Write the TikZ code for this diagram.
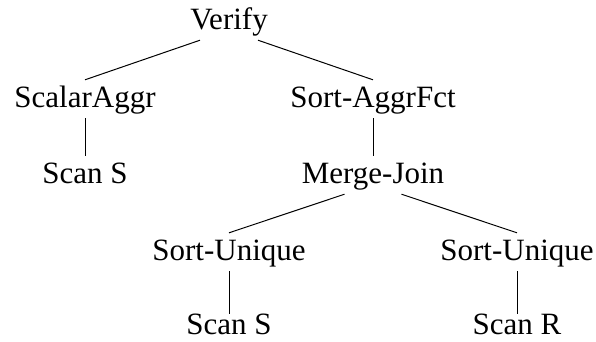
\documentclass[tikz,border=0pt]{standalone}
\usepackage{fontspec}
\setmainfont{Liberation Serif}
\begin{document}
\begin{tikzpicture}[x=1pt,y=-1pt,
  op/.style={anchor=base,inner xsep=0pt,inner ysep=7pt,text height=20pt,text depth=4pt,
    font=\fontsize{31}{36}\selectfont},
  leaf/.style={op,inner ysep=0pt,text height=24pt,text depth=0pt},
  edge/.style={line width=1pt}]
\useasboundingbox (0,0) rectangle (596,341);
\node[op] (v)  at (229,29)  {Verify};
\node[op] (sa) at (85,107)  {ScalarAggr};
\node[op] (sf) at (373,107) {Sort-AggrFct};
\node[op] (s1) at (85,183)  {Scan S};
\node[op] (mj) at (373,183) {Merge-Join};
\node[op] (u1) at (229,260) {Sort-Unique};
\node[op] (u2) at (517,260) {Sort-Unique};
\node[leaf] (s2) at (229,334) {Scan S};
\node[leaf] (sr) at (517,334) {Scan R};
\draw[edge] ([xshift=-29pt]v.south) -- (sa.north);
\draw[edge] ([xshift=29pt]v.south) -- (sf.north);
\draw[edge] (sa.south) -- (s1.north);
\draw[edge] (sf.south) -- (mj.north);
\draw[edge] ([xshift=-28.5pt]mj.south) -- (u1.north);
\draw[edge] ([xshift=28.5pt]mj.south) -- (u2.north);
\draw[edge] (u1.south) -- ([yshift=-4pt]s2.north);
\draw[edge] (u2.south) -- ([yshift=-4pt]sr.north);
\end{tikzpicture}
\end{document}
